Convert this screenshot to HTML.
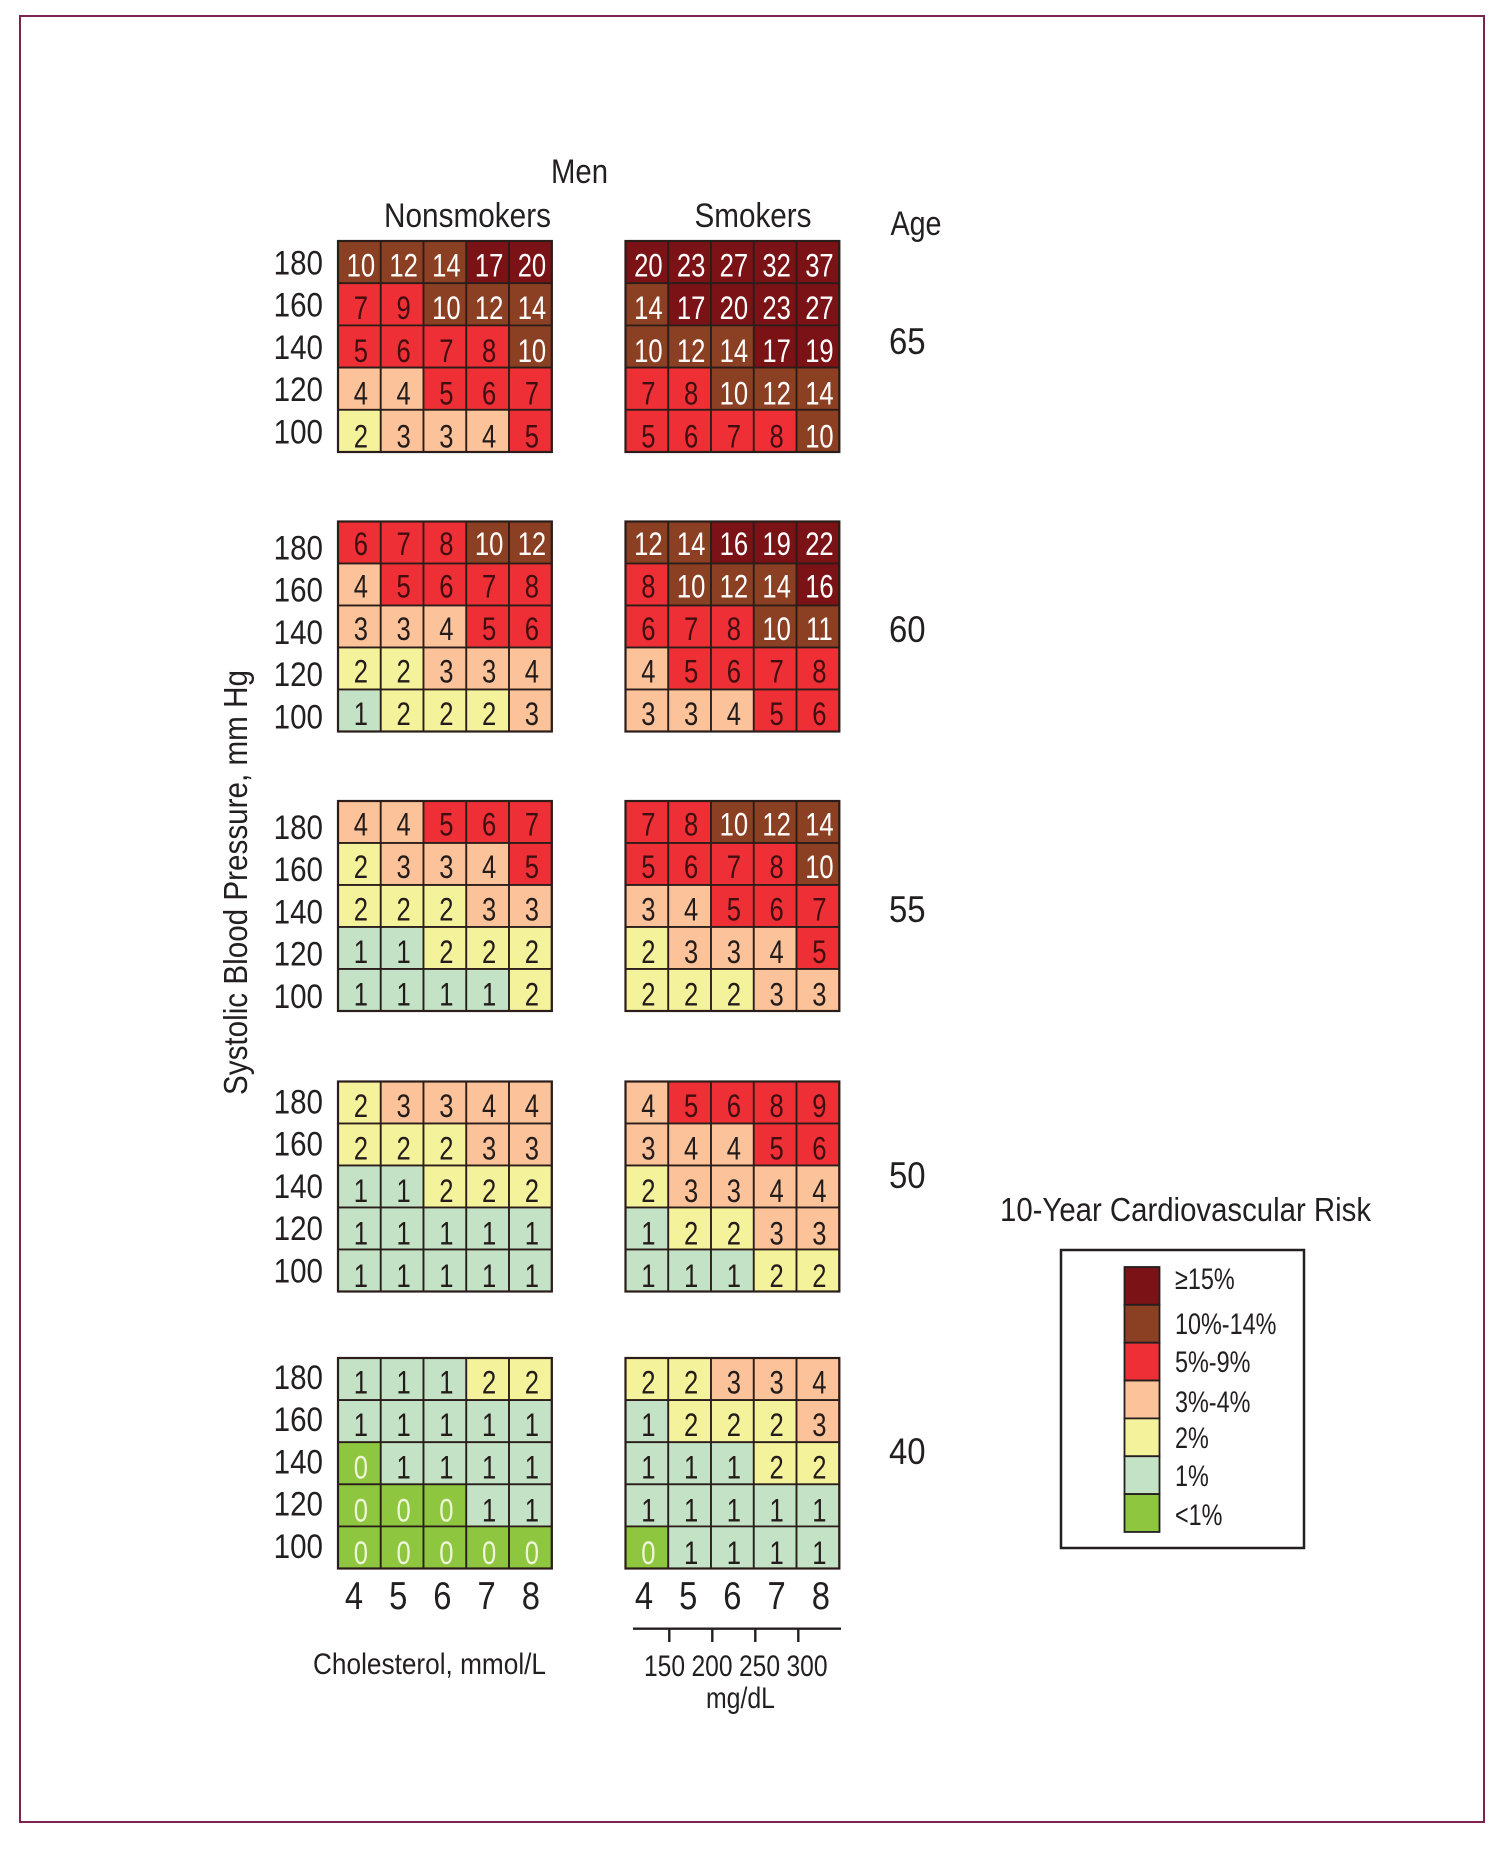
<!DOCTYPE html>
<html lang="en">
<head>
<meta charset="utf-8">
<title>10-Year Cardiovascular Risk Chart - Men</title>
<style>
html,body{margin:0;padding:0;background:#fff}
svg{display:block}
text{font-family:"Liberation Sans",Arial,sans-serif;fill:#231f20}
</style>
</head>
<body>
<svg id="chart" xmlns="http://www.w3.org/2000/svg" width="1512" height="1850" viewBox="0 0 1512 1850">
  <rect x="0" y="0" width="1512" height="1850" fill="#fff"/>
  <rect x="20" y="16" width="1464" height="1806" fill="none" stroke="#7d2350" stroke-width="2"/>

  <text x="551" y="183" font-size="34" textLength="57" lengthAdjust="spacingAndGlyphs">Men</text>
  <text x="384" y="227" font-size="34" textLength="167" lengthAdjust="spacingAndGlyphs">Nonsmokers</text>
  <text x="694.5" y="227" font-size="34" textLength="117" lengthAdjust="spacingAndGlyphs">Smokers</text>
  <text x="890.5" y="235" font-size="34" textLength="51" lengthAdjust="spacingAndGlyphs">Age</text>
  <text transform="translate(247 1095) rotate(-90)" font-size="33" textLength="425" lengthAdjust="spacingAndGlyphs">Systolic Blood Pressure, mm Hg</text>

  <text x="313" y="1674" font-size="30" textLength="233" lengthAdjust="spacingAndGlyphs">Cholesterol, mmol/L</text>
  <text x="706" y="1708" font-size="30" textLength="69" lengthAdjust="spacingAndGlyphs">mg/dL</text>

  <g id="panels"></g>
  <g id="axes"></g>

  <g>
    <text x="1000" y="1221" font-size="33" textLength="371" lengthAdjust="spacingAndGlyphs">10-Year Cardiovascular Risk</text>
    <rect x="1061" y="1250" width="243" height="298" fill="none" stroke="#231f20" stroke-width="2.5"/>
    <g id="legend-entries"></g>
  </g>
</svg>
<script>
var NS = 'http://www.w3.org/2000/svg';

/* ---------- data ---------- */
var ages = ['65', '60', '55', '50', '40'];
var sbpTicks = ['180', '160', '140', '120', '100'];
var mmolTicks = ['4', '5', '6', '7', '8'];
var mgdlTicks = ['150', '200', '250', '300'];
var mgdlValues = [150, 200, 250, 300];

var nonsmokers65 = [[10,12,14,17,20],[7,9,10,12,14],[5,6,7,8,10],[4,4,5,6,7],[2,3,3,4,5]];
var smokers65    = [[20,23,27,32,37],[14,17,20,23,27],[10,12,14,17,19],[7,8,10,12,14],[5,6,7,8,10]];
var nonsmokers60 = [[6,7,8,10,12],[4,5,6,7,8],[3,3,4,5,6],[2,2,3,3,4],[1,2,2,2,3]];
var smokers60    = [[12,14,16,19,22],[8,10,12,14,16],[6,7,8,10,11],[4,5,6,7,8],[3,3,4,5,6]];
var nonsmokers55 = [[4,4,5,6,7],[2,3,3,4,5],[2,2,2,3,3],[1,1,2,2,2],[1,1,1,1,2]];
var smokers55    = [[7,8,10,12,14],[5,6,7,8,10],[3,4,5,6,7],[2,3,3,4,5],[2,2,2,3,3]];
var nonsmokers50 = [[2,3,3,4,4],[2,2,2,3,3],[1,1,2,2,2],[1,1,1,1,1],[1,1,1,1,1]];
var smokers50    = [[4,5,6,8,9],[3,4,4,5,6],[2,3,3,4,4],[1,2,2,3,3],[1,1,1,2,2]];
var nonsmokers40 = [[1,1,1,2,2],[1,1,1,1,1],[0,1,1,1,1],[0,0,0,1,1],[0,0,0,0,0]];
var smokers40    = [[2,2,3,3,4],[1,2,2,2,3],[1,1,1,2,2],[1,1,1,1,1],[0,1,1,1,1]];

var nonsmokerSeries = [nonsmokers65, nonsmokers60, nonsmokers55, nonsmokers50, nonsmokers40];
var smokerSeries = [smokers65, smokers60, smokers55, smokers50, smokers40];

var legendLabels = ['\u226515%', '10%-14%', '5%-9%', '3%-4%', '2%', '1%', '<1%'];
var legendMinRisk = [15, 10, 5, 3, 2, 1, 0];

/* ---------- scales / layout ---------- */
var palette = ['#7a1216', '#8c4023', '#ee2f35', '#fcc39b', '#f5f29c', '#c4e2c6', '#8fc63f'];

function riskBand(v) {
  for (var i = 0; i < legendMinRisk.length; i++) {
    if (v >= legendMinRisk[i]) return i;
  }
  return legendMinRisk.length - 1;
}
function textColor(v) {
  var b = riskBand(v);
  if (b === 0 || b === 1) return '#ffffff';
  if (b === 2) return '#3f0e10';
  if (b === 6) return '#eef5d8';
  return '#231c1a';
}
var panelTop = [241, 521.5, 801, 1081.5, 1358];
var panelH = [211, 210, 210, 210, 210.5];
var yTickBase = [274.5, 559.5, 839, 1113.5, 1389];
var cellBase = [35.5, 33.5, 34.5, 35.5, 35.5];
var ageBase = [354, 642, 922, 1188, 1464];
var colLeft = {non: 338, smk: 625.5};
var panelW = 213.8;

function xCell(left, c) { return left + c * panelW / 5; }
function yCell(p, r) { return panelTop[p] + r * panelH[p] / 5; }

function narrowText(x, y, size, sx, str, anchor, fill) {
  var t = document.createElementNS(NS, 'text');
  t.setAttribute('transform', 'translate(' + x + ' ' + y + ') scale(' + sx + ' 1)');
  t.setAttribute('font-size', size);
  t.setAttribute('text-anchor', anchor);
  if (fill) t.style.fill = fill;
  t.textContent = str;
  return t;
}

/* ---------- panels ---------- */
var panelsG = document.getElementById('panels');
var axesG = document.getElementById('axes');

function drawPanel(values, p, left, groupName) {
  var g = document.createElementNS(NS, 'g');
  
  
  var cw = panelW / 5, ch = panelH[p] / 5;
  for (var r = 0; r < values.length; r++) {
    for (var c = 0; c < values[r].length; c++) {
      var v = values[r][c];
      var rect = document.createElementNS(NS, 'rect');
      
      
      rect.setAttribute('x', xCell(left, c));
      rect.setAttribute('y', yCell(p, r));
      rect.setAttribute('width', cw);
      rect.setAttribute('height', ch);
      rect.setAttribute('fill', palette[riskBand(v)]);
      rect.setAttribute('stroke', '#2a1d1a');
      rect.setAttribute('stroke-width', '1.8');
      g.appendChild(rect);
      var lbl = narrowText(xCell(left, c) + cw / 2 + 1.5, panelTop[p] + cellBase[p] + r * (ch + 0.5), 32, 0.8, String(v), 'middle', textColor(v));
      
      
      g.appendChild(lbl);
    }
  }
  var frame = document.createElementNS(NS, 'rect');
  
  
  frame.setAttribute('x', left);
  frame.setAttribute('y', panelTop[p]);
  frame.setAttribute('width', panelW);
  frame.setAttribute('height', panelH[p]);
  frame.setAttribute('fill', 'none');
  frame.setAttribute('stroke', '#2a1d1a');
  frame.setAttribute('stroke-width', '2.2');
  g.appendChild(frame);
  panelsG.appendChild(g);
}

for (var p = 0; p < ages.length; p++) {
  drawPanel(nonsmokerSeries[p], p, colLeft.non, 'nonsmokers-panel-age-' + ages[p]);
  drawPanel(smokerSeries[p], p, colLeft.smk, 'smokers-panel-age-' + ages[p]);

  for (var i = 0; i < sbpTicks.length; i++) {
    var yt = narrowText(323, yTickBase[p] + i * 42.2, 34, 0.87, sbpTicks[i], 'end');
    
    
    axesG.appendChild(yt);
  }
  var ageT = narrowText(889, ageBase[p], 37, 0.89, ages[p], 'start');
  
  
  axesG.appendChild(ageT);
}

/* ---------- x axis ---------- */
var mmolStep = 44.2;
for (var k = 0; k < mmolTicks.length; k++) {
  var a = narrowText(354 + k * mmolStep, 1609, 39, 0.84, mmolTicks[k], 'middle');
  
  
  axesG.appendChild(a);
  var b = narrowText(644 + k * mmolStep, 1609, 39, 0.84, mmolTicks[k], 'middle');
  
  
  axesG.appendChild(b);
}

function xMgdl(v) { return 669.3 + (v - 150) * 0.86; }
function xMgdlLabel(v) { return 664.5 + (v - 150) * 0.95; }

var axisLine = document.createElementNS(NS, 'line');


axisLine.setAttribute('x1', 633);
axisLine.setAttribute('x2', 841);
axisLine.setAttribute('y1', 1628.7);
axisLine.setAttribute('y2', 1628.7);
axisLine.setAttribute('stroke', '#231f20');
axisLine.setAttribute('stroke-width', '2.4');
axesG.appendChild(axisLine);

for (var m = 0; m < mgdlTicks.length; m++) {
  var tx = xMgdl(mgdlValues[m]);
  var tick = document.createElementNS(NS, 'line');
  
  
  tick.setAttribute('x1', tx);
  tick.setAttribute('x2', tx);
  tick.setAttribute('y1', 1628.7);
  tick.setAttribute('y2', 1642);
  tick.setAttribute('stroke', '#231f20');
  tick.setAttribute('stroke-width', '2.4');
  axesG.appendChild(tick);
  var ml = narrowText(xMgdlLabel(mgdlValues[m]), 1676, 30, 0.82, mgdlTicks[m], 'middle');
  
  
  axesG.appendChild(ml);
}

/* ---------- legend ---------- */
var legendG = document.getElementById('legend-entries');
var swatchTop = 1267, swatchStep = 37.85, swatchLeft = 1124.5, swatchW = 35;
var legendBase = [1289, 1334, 1372, 1412, 1448, 1486, 1525];
for (var n = 0; n < legendLabels.length; n++) {
  var sw = document.createElementNS(NS, 'rect');
  
  
  sw.setAttribute('x', swatchLeft);
  sw.setAttribute('y', swatchTop + n * swatchStep);
  sw.setAttribute('width', swatchW);
  sw.setAttribute('height', swatchStep);
  sw.setAttribute('fill', palette[n]);
  sw.setAttribute('stroke', '#231f20');
  sw.setAttribute('stroke-width', '1.8');
  legendG.appendChild(sw);
  var lt = narrowText(1175, legendBase[n], 30, 0.78, legendLabels[n], 'start');
  
  
  legendG.appendChild(lt);
}
</script>
</body>
</html>
